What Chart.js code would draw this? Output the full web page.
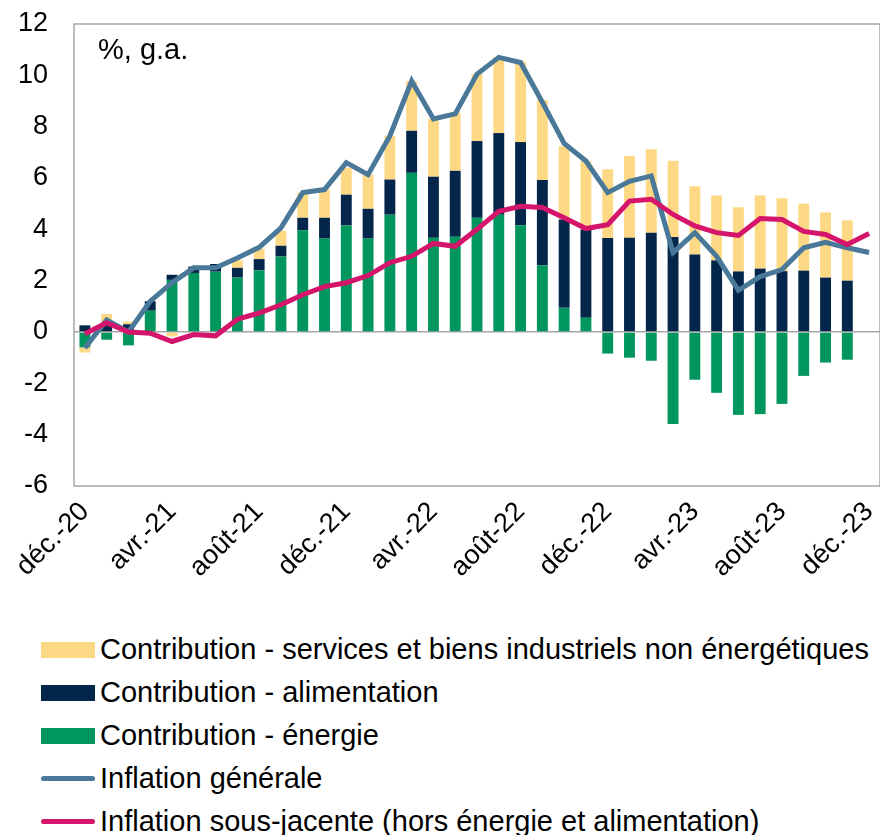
<!DOCTYPE html>
<html lang="fr">
<head>
<meta charset="utf-8">
<script src="https://cdn.jsdelivr.net/npm/chart.js@4.4.1/dist/chart.umd.min.js"></script>
<style>
  html, body { margin: 0; padding: 0; background: #fff; }
  body { width: 880px; height: 835px; position: relative; overflow: hidden;
         font-family: "Liberation Sans", Arial, sans-serif; }
  #wrap { position: absolute; left: 0; top: 0; width: 880px; height: 625px; }
  #legende { position: absolute; left: 41px; top: 628px; }
  .item { display: flex; align-items: center; height: 43px; font-size: 29px; color: #000; white-space: nowrap; }
  .swatch { width: 54px; margin-right: 5px; flex: none; }
</style>
</head>
<body>
<div id="wrap"><canvas id="inflationChart"></canvas></div>
<div id="legende"></div>

<script>
// mois de déc.-20 à déc.-23
const mois = [
  "déc.-20", "janv.-21", "févr.-21", "mars-21", "avr.-21", "mai-21", "juin-21", "juil.-21",
  "août-21", "sept.-21", "oct.-21", "nov.-21", "déc.-21", "janv.-22", "févr.-22", "mars-22",
  "avr.-22", "mai-22", "juin-22", "juil.-22", "août-22", "sept.-22", "oct.-22", "nov.-22",
  "déc.-22", "janv.-23", "févr.-23", "mars-23", "avr.-23", "mai-23", "juin-23", "juil.-23",
  "août-23", "sept.-23", "oct.-23", "nov.-23", "déc.-23"
];

// contributions (points de %)
const energie = [
  -0.6, -0.3, -0.52, 0.83, 2.03, 2.3, 2.35, 2.12, 2.4, 2.94, 3.96, 3.64,
  4.15, 3.64, 4.57, 6.2, 3.67, 3.71, 4.45, 4.57, 4.16, 2.6, 0.94, 0.56,
  -0.84, -1.0, -1.12, -3.58, -1.86, -2.37, -3.23, -3.2, -2.8, -1.71, -1.19, -1.08,
  null
];
const alimentation = [
  0.26, 0.35, 0.3, 0.37, 0.2, 0.25, 0.3, 0.38, 0.44, 0.42, 0.49, 0.81,
  1.2, 1.16, 1.37, 1.64, 2.38, 2.57, 2.99, 3.18, 3.24, 3.32, 3.44, 3.43,
  3.66, 3.67, 3.87, 3.7, 3.02, 2.79, 2.36, 2.47, 2.37, 2.39, 2.12, 2.0,
  null
];
const services = [
  -0.2, 0.35, 0.1, 0.0, -0.17, 0.0, 0.0, 0.3, 0.4, 0.58, 0.98, 1.1,
  1.05, 1.33, 1.7, 1.94, 2.25, 2.27, 2.61, 2.95, 3.13, 3.11, 2.86, 2.67,
  2.68, 3.19, 3.25, 2.97, 2.66, 2.53, 2.5, 2.85, 2.84, 2.61, 2.54, 2.35,
  null
];

// glissements annuels (%)
const inflationGenerale = [
  -0.62, 0.47, 0.0, 1.2, 1.92, 2.5, 2.5, 2.88, 3.3, 4.06, 5.43, 5.55,
  6.6, 6.13, 7.64, 9.78, 8.3, 8.5, 10.05, 10.7, 10.5, 8.95, 7.35, 6.66,
  5.43, 5.87, 6.08, 3.09, 3.87, 2.95, 1.62, 2.16, 2.43, 3.28, 3.49, 3.28,
  3.1
];
const inflationSousJacente = [
  -0.07, 0.36, 0.0, -0.05, -0.37, -0.1, -0.15, 0.5, 0.74, 1.06, 1.45, 1.77,
  1.92, 2.2, 2.7, 2.95, 3.45, 3.34, 4.0, 4.7, 4.9, 4.85, 4.45, 4.03,
  4.18, 5.1, 5.17, 4.58, 4.13, 3.87, 3.76, 4.42, 4.38, 3.92, 3.8, 3.41,
  3.84
];

const yTicks = [-6, -4, -2, 0, 2, 4, 6, 8, 10, 12];

const POLICE = "'Liberation Sans', Arial, sans-serif";

// cadre gris autour de la zone de tracé + mention d'unité
const cadrePlugin = {
  id: "cadre",
  afterDraw(chart) {
    const { ctx, chartArea: a } = chart;
    ctx.save();
    ctx.strokeStyle = "#a6a6a6";
    ctx.lineWidth = 1.5;
    ctx.strokeRect(a.left, a.top, a.right - a.left, a.bottom - a.top);
    ctx.fillStyle = "#000";
    ctx.font = "29px " + POLICE;
    ctx.textBaseline = "middle";
    ctx.fillText("%, g.a.", a.left + 24, a.top + 27);
    ctx.restore();
  }
};

const ctx = document.getElementById("inflationChart").getContext("2d");

const chart = new Chart(ctx, {
  type: "bar",
  data: {
    labels: mois,
    datasets: [
      { label: "Contribution - énergie", data: energie, backgroundColor: "#00965d",
        stack: "c", order: 2, barPercentage: 0.5, categoryPercentage: 1 },
      { label: "Contribution - alimentation", data: alimentation, backgroundColor: "#03264a",
        stack: "c", order: 2, barPercentage: 0.5, categoryPercentage: 1 },
      { label: "Contribution - services et biens industriels non énergétiques", data: services,
        backgroundColor: "#fed985", stack: "c", order: 2, barPercentage: 0.5, categoryPercentage: 1 },
      { type: "line", label: "Inflation générale", data: inflationGenerale,
        borderColor: "#4a7899", backgroundColor: "#4a7899", borderWidth: 5,
        pointRadius: 0, tension: 0, stack: "g", order: 1 },
      { type: "line", label: "Inflation sous-jacente (hors énergie et alimentation)",
        data: inflationSousJacente, borderColor: "#d4156b", backgroundColor: "#d4156b",
        borderWidth: 5, pointRadius: 0, tension: 0, stack: "s", order: 0 }
    ]
  },
  options: {
    responsive: true,
    maintainAspectRatio: false,
    animation: false,
    layout: { padding: { top: 24, right: 0, left: 0, bottom: 0 } },
    plugins: {
      legend: { display: false },
      tooltip: { enabled: false }
    },
    scales: {
      x: {
        stacked: true,
        grid: { display: false, drawTicks: false },
        border: { display: false },
        afterFit: (scale) => {
          scale.height = 139;
          scale.paddingLeft = 0;
          scale.paddingRight = 0;
        },
        ticks: {
          autoSkip: false,
          maxRotation: 45,
          minRotation: 45,
          padding: 10,
          color: "#000",
          font: { family: POLICE, size: 27 },
          callback: function (value, index) {
            return index % 4 === 0 ? this.getLabelForValue(value) : "";
          }
        }
      },
      y: {
        stacked: true,
        min: -6,
        max: 12,
        afterFit: (scale) => {
          scale.width = 74;
          scale.paddingTop = 0;
          scale.paddingBottom = 0;
        },
        afterBuildTicks: (scale) => { scale.ticks = yTicks.map(v => ({ value: v })); },
        grid: {
          drawTicks: false,
          lineWidth: 1.5,
          color: (c) => (c.tick && c.tick.value === 0 ? "#a6a6a6" : "rgba(0,0,0,0)")
        },
        border: { display: false },
        ticks: {
          padding: 26,
          color: "#000",
          font: { family: POLICE, size: 27 }
        }
      }
    }
  },
  plugins: [cadrePlugin]
});

// légende verticale, dans l'ordre du graphique d'origine
const ordreLegende = [2, 1, 0, 3, 4];
const legendeEl = document.getElementById("legende");
ordreLegende.forEach(i => {
  const ds = chart.data.datasets[i];
  const row = document.createElement("div");
  row.className = "item";
  const sw = document.createElement("span");
  sw.className = "swatch";
  if (ds.type === "line") {
    sw.style.height = "5px";
    sw.style.borderRadius = "3px";
    sw.style.background = ds.borderColor;
  } else {
    sw.style.height = "16px";
    sw.style.background = ds.backgroundColor;
  }
  const txt = document.createElement("span");
  txt.textContent = ds.label;
  row.appendChild(sw);
  row.appendChild(txt);
  legendeEl.appendChild(row);
});
</script>
</body>
</html>
